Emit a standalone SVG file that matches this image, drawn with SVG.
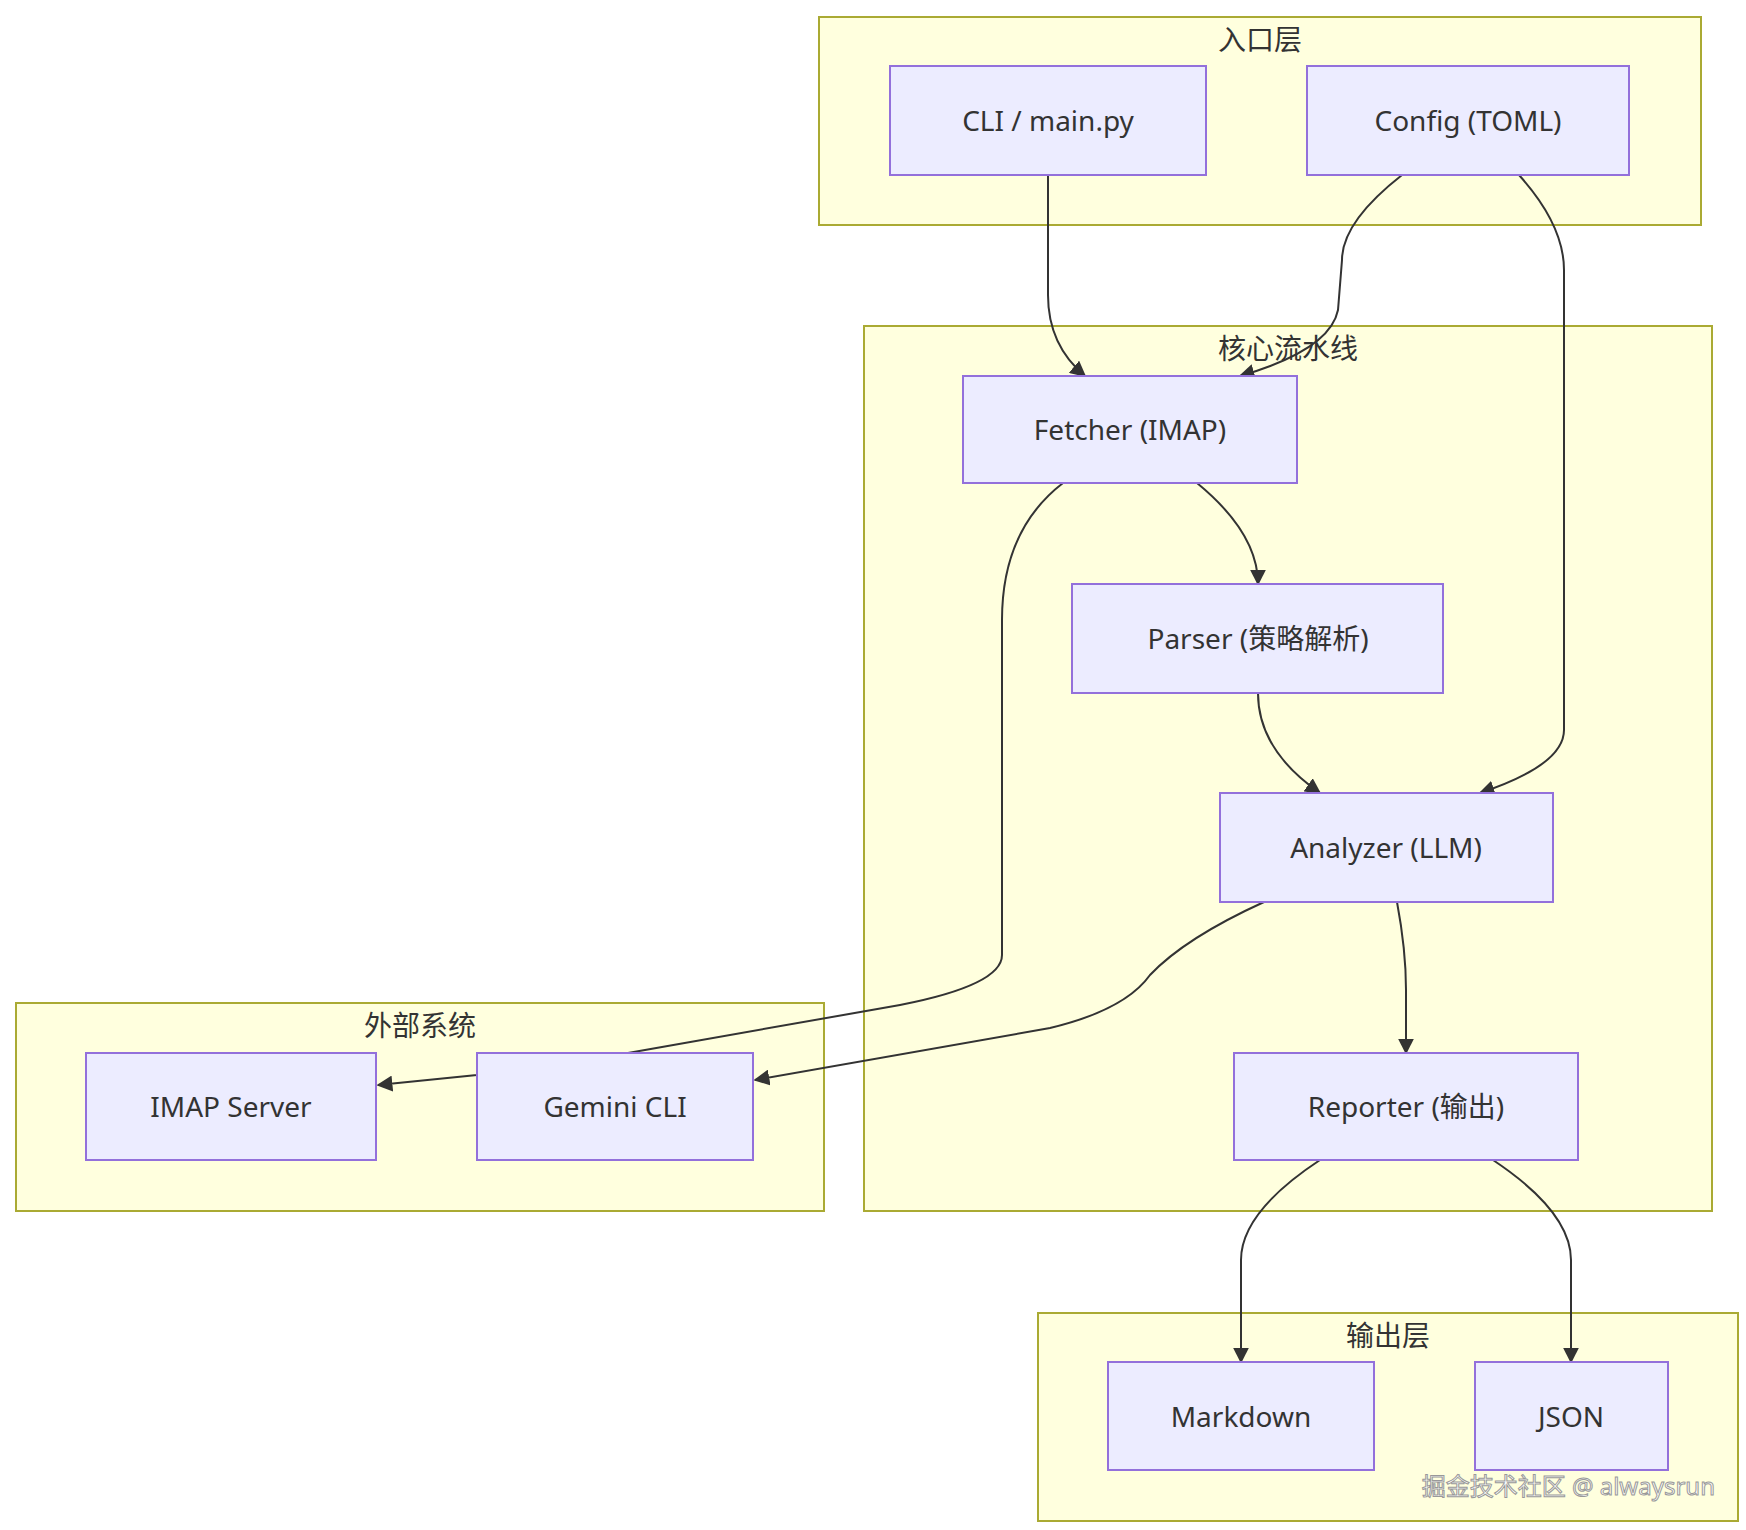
<svg xmlns="http://www.w3.org/2000/svg" width="1746" height="1530" viewBox="0 0 1746 1530">
<style>
.c{fill:#ffffde;stroke:#aaaa33;stroke-width:2}
.n{fill:#ececff;stroke:#9370db;stroke-width:2}
text{font-family:"Noto Sans","Noto Sans CJK SC",sans-serif;font-size:28px;fill:#333;text-anchor:middle;dominant-baseline:central}
.e{fill:none;stroke:#333;stroke-width:2;marker-end:url(#a)}
</style>
<defs><marker id="a" viewBox="0 0 10 10" refX="9" refY="5" markerWidth="8" markerHeight="8" orient="auto"><path d="M0,0L10,5L0,10z" fill="#333"/></marker></defs>
<rect fill="#fff" width="1746" height="1530"/>
<g id="cluster-entry"><rect class="c" x="819" y="17" width="882" height="208"/><text x="1260" y="39">入口层</text></g>
<g id="cluster-core"><rect class="c" x="864" y="326" width="848" height="885"/><text x="1288" y="348">核心流水线</text></g>
<g id="cluster-ext"><rect class="c" x="16" y="1003" width="808" height="208"/><text x="420" y="1025">外部系统</text></g>
<g id="cluster-out"><rect class="c" x="1038" y="1313" width="700" height="208"/><text x="1388" y="1335">输出层</text></g>
<g id="connectors">
<path class="e" d="M1048,175 L1048,295 Q1048,345 1085,376"/>
<path class="e" d="M1402,175 Q1342,222 1342,260 L1338,310 Q1330,350 1240,376"/>
<path class="e" d="M1519,175 Q1564,225 1564,270 L1564,730 Q1564,765 1480,793"/>
<path class="e" d="M1197,483 Q1258,533 1258,584"/>
<path class="e" d="M1063,483 Q1002,530 1002,620 L1002,955 Q1002,985 900,1005 L628,1053 L477,1075 L378,1085"/>
<path class="e" d="M1264,902 Q1185,938 1150,975 Q1125,1010 1050,1028 L755,1080"/>
<path class="e" d="M1258,693 Q1258,750 1320,793"/>
<path class="e" d="M1397,902 Q1406,950 1406,990 L1406,1053"/>
<path class="e" d="M1320,1160 Q1241,1212 1241,1260 L1241,1362"/>
<path class="e" d="M1493,1160 Q1571,1212 1571,1260 L1571,1362"/>
</g>
<g id="cli"><rect class="n" x="890" y="66" width="316" height="109"/><text x="1048" y="120">CLI / main.py</text></g>
<g id="config"><rect class="n" x="1307" y="66" width="322" height="109"/><text x="1468" y="120">Config (TOML)</text></g>
<g id="fetcher"><rect class="n" x="963" y="376" width="334" height="107"/><text x="1130" y="429">Fetcher (IMAP)</text></g>
<g id="parser"><rect class="n" x="1072" y="584" width="371" height="109"/><text x="1258" y="638">Parser (策略解析)</text></g>
<g id="analyzer"><rect class="n" x="1220" y="793" width="333" height="109"/><text x="1386" y="847">Analyzer (LLM)</text></g>
<g id="reporter"><rect class="n" x="1234" y="1053" width="344" height="107"/><text x="1406" y="1106">Reporter (输出)</text></g>
<g id="imap"><rect class="n" x="86" y="1053" width="290" height="107"/><text x="231" y="1106">IMAP Server</text></g>
<g id="gemini"><rect class="n" x="477" y="1053" width="276" height="107"/><text x="615" y="1106">Gemini CLI</text></g>
<g id="markdown"><rect class="n" x="1108" y="1362" width="266" height="108"/><text x="1241" y="1416">Markdown</text></g>
<g id="json"><rect class="n" x="1475" y="1362" width="193" height="108"/><text x="1571" y="1416">JSON</text></g>
<text x="1715" y="1485" style="text-anchor:end;font-size:24px;fill:#fff;stroke:#999;stroke-width:1">掘金技术社区 @ alwaysrun</text>
</svg>
